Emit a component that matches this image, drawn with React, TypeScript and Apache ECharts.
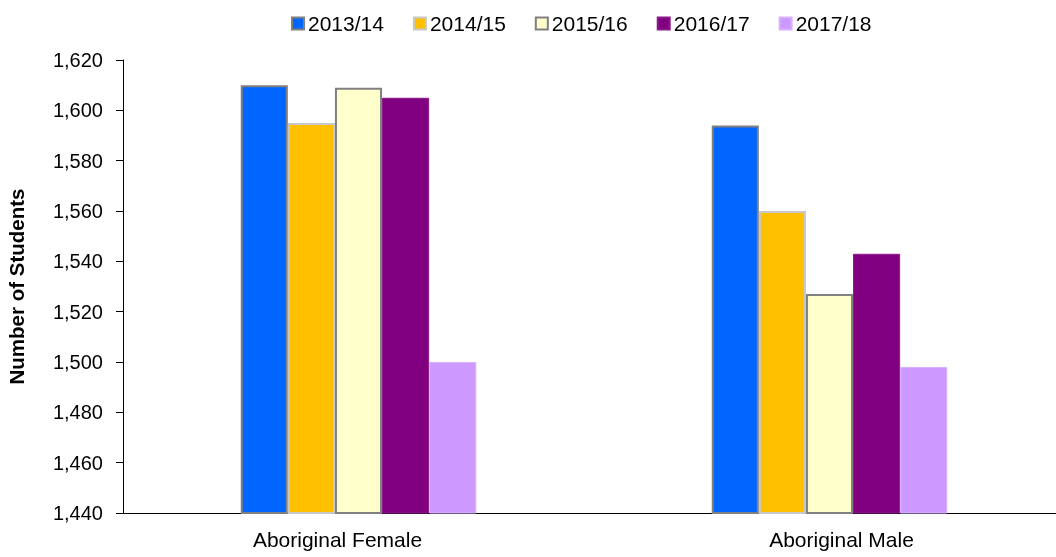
import React, { useEffect, useRef } from "react";
import * as echarts from "echarts";

const categories = ["Aboriginal Female", "Aboriginal Male"];
const seriesNames = ["2013/14", "2014/15", "2015/16", "2016/17", "2017/18"];
const values2013 = [1610, 1594];
const values2014 = [1595, 1560];
const values2015 = [1609, 1527];
const values2016 = [1605, 1543];
const values2017 = [1500, 1498];
const fillColors = ["#0066ff", "#ffc000", "#ffffcc", "#800080", "#cc99ff"];
const borderColors = ["#808080", "#c8c8c8", "#808080", "#8a1a8a", "#d8b0ff"];
const borderWidths = [2, 2, 2, 1, 1];

export default function App() {
  const ref = useRef<HTMLDivElement>(null);
  useEffect(() => {
    const chart = echarts.init(ref.current!, null, { renderer: "svg" });
    const all = [values2013, values2014, values2015, values2016, values2017];
    chart.setOption({
      animation: false,
      textStyle: { fontFamily: "Liberation Sans, Arial, sans-serif" },
      legend: {
        top: 8,
        left: 286,
        icon: "rect",
        itemWidth: 12,
        itemHeight: 12,
        itemGap: 29,
        textStyle: { fontSize: 21, color: "#000", padding: [0, 0, 0, -1] },
        data: seriesNames,
      },
      grid: {
        left: 123,
        right: -9,
        top: 60,
        bottom: 44,
        containLabel: false,
        outerBoundsMode: "none",
      },
      xAxis: {
        type: "category",
        data: categories,
        axisLine: { lineStyle: { color: "#000", width: 1 } },
        axisTick: { show: false },
        axisLabel: {
          fontSize: 21,
          color: "#000",
          margin: 16,
          formatter: (v: string, i: number) =>
            i === 0 ? "{f|" + v + "}" : "{m|" + v + "}",
          rich: {
            f: { fontSize: 21, color: "#000", padding: [0, 42, 0, 0] },
            m: { fontSize: 21, color: "#000", padding: [0, 0, 0, 24] },
          },
        },
      },
      yAxis: {
        type: "value",
        min: 1440,
        max: 1620,
        interval: 20,
        name: "Number of Students",
        nameLocation: "middle",
        nameGap: 96,
        nameTextStyle: { fontSize: 20.5, fontWeight: "bold", color: "#000" },
        axisLine: { show: true, lineStyle: { color: "#000", width: 1 } },
        axisTick: { show: true, length: 7, lineStyle: { color: "#000" } },
        splitLine: { show: false },
        axisLabel: {
          fontSize: 20,
          color: "#000",
          margin: 20,
          formatter: (v: number) => v.toLocaleString("en-US"),
        },
      },
      series: seriesNames.map((name, i) => ({
        name,
        type: "bar",
        data: all[i],
        barGap: "0%",
        barCategoryGap: "50%",
        itemStyle: {
          color: fillColors[i],
          borderColor: borderColors[i],
          borderWidth: borderWidths[i],
        },
      })),
    });
    return () => chart.dispose();
  }, []);
  return (
    <div
      ref={ref}
      style={{ position: "fixed", left: 0, top: 0, width: 1056, height: 557 }}
    />
  );
}
